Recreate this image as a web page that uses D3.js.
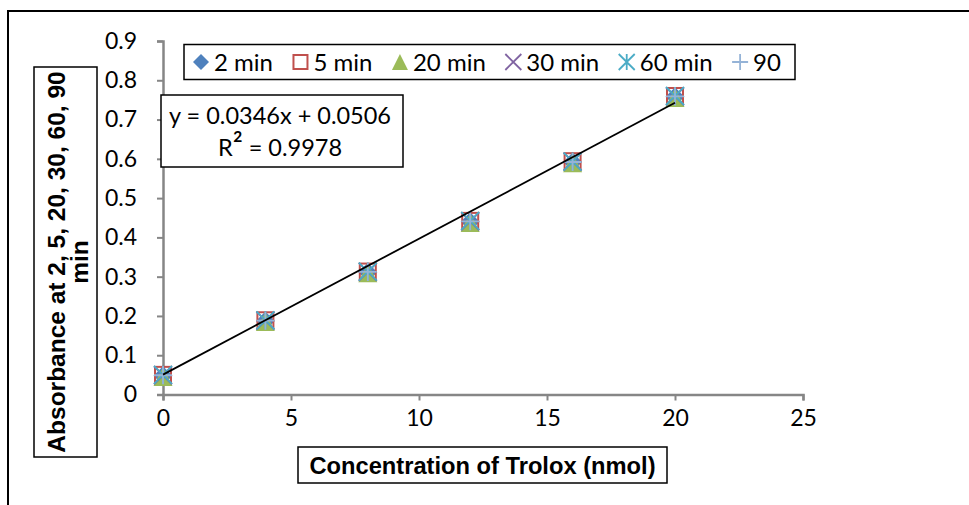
<!DOCTYPE html>
<html><head><meta charset="utf-8">
<script src="https://cdn.jsdelivr.net/npm/d3@7"></script>
<style>body{margin:0;background:#fff}svg{display:block}</style>
</head><body>
<svg id="c" width="969" height="505"></svg>
<script>
const xValues = [0, 4, 8, 12, 16, 20];
const seriesNames = ["2 min", "5 min", "20 min", "30 min", "60 min", "90"];
const s2min  = [0.048, 0.187, 0.311, 0.440, 0.592, 0.758];
const s5min  = [0.050, 0.189, 0.313, 0.442, 0.594, 0.760];
const s20min = [0.046, 0.186, 0.310, 0.438, 0.590, 0.756];
const s30min = [0.049, 0.188, 0.312, 0.441, 0.593, 0.759];
const s60min = [0.050, 0.189, 0.313, 0.442, 0.593, 0.760];
const s90min = [0.049, 0.188, 0.312, 0.441, 0.592, 0.759];
const xTicks = [0, 5, 10, 15, 20, 25];
const yTicks = [0, 0.1, 0.2, 0.3, 0.4, 0.5, 0.6, 0.7, 0.8, 0.9];
const slope = 0.0346, intercept = 0.0506;
const eqText = "y = 0.0346x + 0.0506";
const r2Parts = ["R", "²", " = 0.9978"];
const yTitle = ["Absorbance at 2, 5, 20, 30, 60, 90", "min"];
const xTitle = "Concentration of Trolox (nmol)";

const allSeries = [s2min, s5min, s20min, s30min, s60min, s90min];
const colors = ["#4F81BD", "#C0504D", "#9BBB59", "#8064A2", "#4BACC6", "#95B3D7"];
const shapes = ["diamond", "square", "triangle", "x", "star", "plus"];

const svg = d3.select("#c");
const font = "Lato, 'Open Sans', sans-serif";
const boldFont = "'Liberation Sans', Arial, sans-serif";

// outer frame
svg.append("rect").attr("x", 8).attr("y", 11).attr("width", 1000).attr("height", 600)
  .attr("fill", "none").attr("stroke", "#000").attr("stroke-width", 2);

const x = d3.scaleLinear().domain([0, 25]).range([163, 803]);
const y = d3.scaleLinear().domain([0, 0.9]).range([394.5, 41]);

const axisColor = "#868686";
const gx = svg.append("g").attr("transform", "translate(0,394.5)")
  .call(d3.axisBottom(x).tickValues(xTicks).tickSize(6).tickPadding(9).tickFormat(d3.format("d")));
const gy = svg.append("g").attr("transform", "translate(163,0)")
  .call(d3.axisLeft(y).tickValues(yTicks).tickSize(6).tickPadding(20).tickFormat(d => d === 0 ? "0" : d3.format(".1f")(d)));
[gx, gy].forEach(g => {
  g.select(".domain").attr("stroke", axisColor).attr("stroke-width", 2.5);
  g.selectAll(".tick line").attr("stroke", axisColor).attr("stroke-width", 2);
  g.selectAll(".tick text").attr("fill", "#000").style("font-family", font).style("font-size", "23px");
});

// marker drawing
function drawMarker(g, shape, color, size) {
  const h = size / 2;
  if (shape === "diamond") {
    g.append("path").attr("d", `M0,${-h}L${h},0L0,${h}L${-h},0Z`).attr("fill", color);
  } else if (shape === "square") {
    g.append("rect").attr("x", -h + 1).attr("y", -h + 1).attr("width", size - 2).attr("height", size - 2)
      .attr("fill", "none").attr("stroke", color).attr("stroke-width", 2);
  } else if (shape === "triangle") {
    g.append("path").attr("d", `M0,${-h}L${h},${h}L${-h},${h}Z`).attr("fill", color);
  } else if (shape === "x") {
    g.append("path").attr("d", `M${-h},${-h}L${h},${h}M${h},${-h}L${-h},${h}`).attr("stroke", color).attr("stroke-width", 1.8);
  } else if (shape === "star") {
    g.append("path").attr("d", `M${-h},${-h}L${h},${h}M${h},${-h}L${-h},${h}M0,${-h}L0,${h}`).attr("stroke", color).attr("stroke-width", 1.8);
  } else if (shape === "plus") {
    g.append("path").attr("d", `M${-h},0L${h},0M0,${-h}L0,${h}`).attr("stroke", color).attr("stroke-width", 1.8);
  }
}

const pointSize = [19, 18, 19, 18, 18, 18];
allSeries.forEach((vals, si) => {
  const gs = svg.append("g");
  vals.forEach((v, i) => {
    const g = gs.append("g").attr("transform", `translate(${x(xValues[i])},${y(v)})`);
    drawMarker(g, shapes[si], colors[si], pointSize[si]);
  });
});

// trendline
svg.append("line")
  .attr("x1", x(0)).attr("y1", y(intercept))
  .attr("x2", x(20)).attr("y2", y(slope * 20 + intercept))
  .attr("stroke", "#000").attr("stroke-width", 1.8);

// legend
svg.append("rect").attr("x", 184).attr("y", 44.5).attr("width", 611).attr("height", 35)
  .attr("fill", "#fff").attr("stroke", "#000").attr("stroke-width", 1.5);
let lx = 201;
seriesNames.forEach((name, si) => {
  const g = svg.append("g").attr("transform", `translate(${lx},62)`);
  drawMarker(g, shapes[si], colors[si], 16);
  const t = svg.append("text").attr("x", lx + 13).attr("y", 70.5).text(name)
    .style("font-family", font).style("font-size", "24px").attr("fill", "#000");
  lx = lx + 13 + t.node().getComputedTextLength() + 27.5;
});

// equation box
svg.append("rect").attr("x", 161).attr("y", 95).attr("width", 242).attr("height", 72)
  .attr("fill", "#fff").attr("stroke", "#000").attr("stroke-width", 1.5);
svg.append("text").attr("x", 280).attr("y", 124).attr("text-anchor", "middle").text(eqText)
  .style("font-family", font).style("font-size", "23.5px");
const r2 = svg.append("text").attr("x", 280).attr("y", 156).attr("text-anchor", "middle")
  .style("font-family", font).style("font-size", "23.5px");
r2.append("tspan").text(r2Parts[0]);
r2.append("tspan").style("font-size", "30px").text(r2Parts[1]);
r2.append("tspan").text(r2Parts[2]);

// y title
svg.append("rect").attr("x", 34).attr("y", 67).attr("width", 63).attr("height", 390)
  .attr("fill", "#fff").attr("stroke", "#000").attr("stroke-width", 1.5);
const yt = svg.append("text").attr("transform", "translate(65.5,262) rotate(-90)")
  .attr("text-anchor", "middle")
  .style("font-family", boldFont).style("font-weight", "bold").style("font-size", "24.5px");
yt.append("tspan").attr("x", 0).attr("y", -1).text(yTitle[0]);
yt.append("tspan").attr("x", 0).attr("y", 22).text(yTitle[1]);

// x title
svg.append("rect").attr("x", 298).attr("y", 447).attr("width", 369).attr("height", 36)
  .attr("fill", "#fff").attr("stroke", "#000").attr("stroke-width", 1.5);
svg.append("text").attr("x", 482.5).attr("y", 473.5).attr("text-anchor", "middle").text(xTitle)
  .style("font-family", boldFont).style("font-weight", "bold").style("font-size", "23.7px");
</script>
</body></html>
